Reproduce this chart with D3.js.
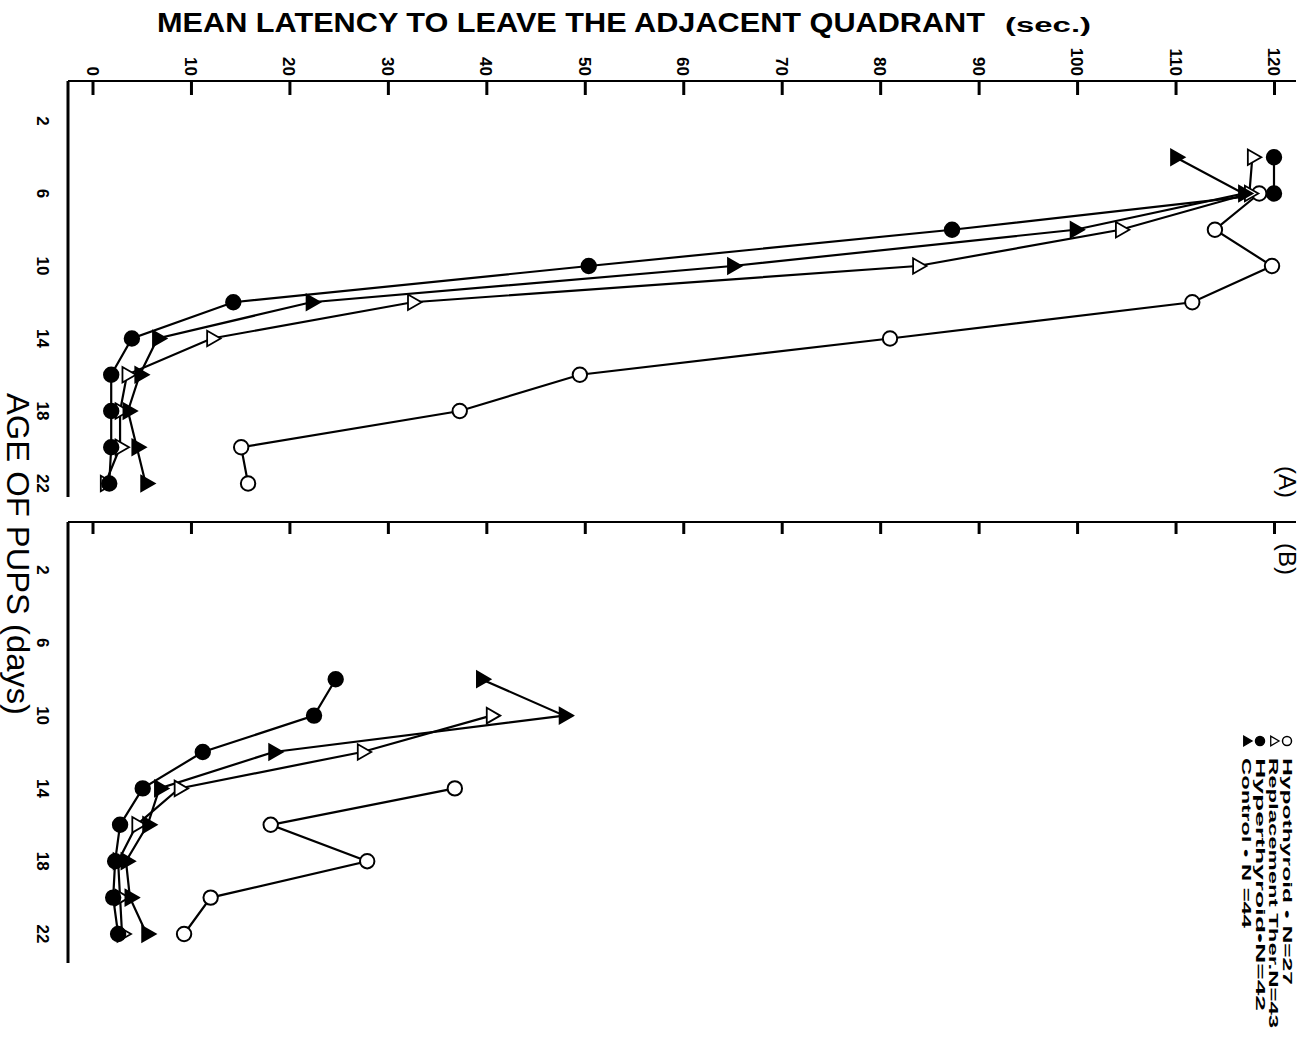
<!DOCTYPE html>
<html>
<head>
<meta charset="utf-8">
<script src="https://cdn.jsdelivr.net/npm/d3@7"></script>
<style>
  html, body { margin: 0; padding: 0; background: #fff; }
  svg { display: block; }
  text { font-family: "Liberation Sans", Arial, sans-serif; fill: #000; }
</style>
</head>
<body>
<svg id="chart" width="1306" height="1037"></svg>
<script>
// ---------- data ----------
const agesA = [4, 6, 8, 10, 12, 14, 16, 18, 20, 22];
const hypoA    = [null, 118.5, 114.0, 119.8, 111.7, 81.0, 49.5, 37.3, 15.1, 15.8];
const replA    = [117.8, 117.5, 104.4, 83.8, 32.5, 12.1, 3.5, 2.8, 2.8, 1.3];
const hyperA   = [120.0, 120.0, 87.3, 50.4, 14.3, 4.0, 1.9, 1.9, 1.9, 1.7];
const controlA = [110.0, 116.9, 99.8, 65.0, 22.2, 6.6, 4.8, 3.6, 4.5, 5.4];

const agesB = [8, 10, 12, 14, 16, 18, 20, 22];
const hypoB    = [null, null, null, 36.8, 18.1, 27.9, 12.0, 9.3];
const replB    = [null, 40.5, 27.4, 8.8, 4.5, 2.6, 2.8, 3.0];
const hyperB   = [24.7, 22.5, 11.2, 5.1, 2.8, 2.3, 2.1, 2.6];
const controlB = [39.5, 47.9, 18.4, 6.8, 5.6, 3.4, 3.8, 5.5];

const latencyTicks = [0, 10, 20, 30, 40, 50, 60, 70, 80, 90, 100, 110, 120];
const ageTicks = [2, 6, 10, 14, 18, 22];

const legendLabels = ["Hypothyroid \u2022 N=27", "Replacement Ther.N=43", "Hyperthyroid\u2022N=42", "Control \u2022 N =44"];
const legendKinds = ["openCircle", "openTri", "filledCircle", "filledTri"];

const titleText = "MEAN LATENCY TO LEAVE THE ADJACENT QUADRANT";
const titleUnit = "(sec.)";
const ageLabel = "AGE OF PUPS (days)";

// ---------- layout ----------
const svg = d3.select("#chart");
const x = d3.scaleLinear().domain([0, 120]).range([92.5, 1274]);
const yA = d3.scaleLinear().domain([2, 22]).range([121, 483.5]);
const yB = d3.scaleLinear().domain([2, 22]).range([570, 934]);

const axisX0 = 68, axisX1 = 1296;

// title
svg.append("text").attr("x", 157).attr("y", 32)
  .attr("font-size", 28).attr("font-weight", "bold")
  .attr("textLength", 828).attr("lengthAdjust", "spacingAndGlyphs")
  .text(titleText);
svg.append("text").attr("x", 1005).attr("y", 32)
  .attr("font-size", 20).attr("font-weight", "bold")
  .attr("textLength", 86).attr("lengthAdjust", "spacingAndGlyphs")
  .text(titleUnit);

// age label
svg.append("text")
  .attr("transform", "translate(7,393) rotate(90)")
  .attr("font-size", 31)
  .attr("textLength", 322).attr("lengthAdjust", "spacingAndGlyphs")
  .text(ageLabel);

function panel(top, bottom, y, tickLen, withLabels) {
  const g = svg.append("g");
  const ax = d3.axisBottom(x).tickValues(latencyTicks).tickSize(tickLen).tickFormat("");
  const ga = g.append("g").attr("transform", `translate(0,${top})`).call(ax);
  ga.select(".domain").remove();
  ga.selectAll(".tick line").attr("stroke", "#000").attr("stroke-width", 3);
  g.append("line").attr("x1", axisX0).attr("x2", axisX1).attr("y1", top).attr("y2", top)
    .attr("stroke", "#000").attr("stroke-width", 2.2);
  g.append("line").attr("x1", axisX0).attr("x2", axisX0).attr("y1", top).attr("y2", bottom)
    .attr("stroke", "#000").attr("stroke-width", 3);
  if (withLabels) {
    latencyTicks.forEach(t => {
      svg.append("text")
        .attr("transform", `translate(${x(t) - 6},${top - 5}) rotate(90)`)
        .attr("text-anchor", "end")
        .attr("font-size", 17).attr("font-weight", "bold")
        .text(t);
    });
  }
  ageTicks.forEach(a => {
    svg.append("text")
      .attr("transform", `translate(37,${y(a)}) rotate(90)`)
      .attr("text-anchor", "middle")
      .attr("font-size", 17).attr("font-weight", "bold")
      .text(a);
  });
}
panel(81, 497, yA, 14, true);
panel(522, 963, yB, 12, false);

// panel labels
svg.append("text").attr("transform", "translate(1279,482) rotate(90)")
  .attr("text-anchor", "middle").attr("font-size", 24).text("(A)");
svg.append("text").attr("transform", "translate(1279,559) rotate(90)")
  .attr("text-anchor", "middle").attr("font-size", 24).text("(B)");

// ---------- series ----------
function drawMarker(g, kind, cx, cy, small) {
  if (kind === "openCircle" || kind === "filledCircle") {
    g.append("circle").attr("cx", cx).attr("cy", cy).attr("r", small ? 4.5 : 7.2)
      .attr("fill", kind === "openCircle" ? "#fff" : "#000")
      .attr("stroke", "#000").attr("stroke-width", small ? 1.5 : 2);
  } else {
    const p = d3.symbol().type(d3.symbolTriangle).size(small ? 40 : 105)();
    g.append("path").attr("d", p)
      .attr("transform", `translate(${cx},${cy}) rotate(90)`)
      .attr("fill", kind === "openTri" ? "#fff" : "#000")
      .attr("stroke", "#000").attr("stroke-width", small ? 1.3 : 1.8);
  }
}

function series(ages, vals, y) {
  const pts = ages.map((a, i) => ({ a, v: vals[i] })).filter(d => d.v != null);
  const line = d3.line().x(d => x(d.v)).y(d => y(d.a));
  svg.append("path").datum(pts).attr("d", line)
    .attr("fill", "none").attr("stroke", "#000").attr("stroke-width", 2.2);
  return pts;
}

const defs = [
  [agesA, hypoA, yA, "openCircle"],
  [agesA, replA, yA, "openTri"],
  [agesA, controlA, yA, "filledTri"],
  [agesA, hyperA, yA, "filledCircle"],
  [agesB, hypoB, yB, "openCircle"],
  [agesB, replB, yB, "openTri"],
  [agesB, controlB, yB, "filledTri"],
  [agesB, hyperB, yB, "filledCircle"]
];
const allPts = defs.map(d => ({ pts: series(d[0], d[1], d[2]), y: d[2], kind: d[3] }));
const mg = svg.append("g");
allPts.forEach(s => s.pts.forEach(p => drawMarker(mg, s.kind, x(p.v), s.y(p.a), false)));

// ---------- legend ----------
const legX = [1287, 1273.5, 1260, 1246.5];
const legLen = [227, 270, 253, 170];
legendLabels.forEach((lab, i) => {
  drawMarker(svg, legendKinds[i], legX[i], 741, true);
  svg.append("text")
    .attr("transform", `translate(${legX[i] - 4.5},758) rotate(90)`)
    .attr("font-size", 12.5).attr("font-weight", "bold")
    .attr("textLength", legLen[i]).attr("lengthAdjust", "spacingAndGlyphs")
    .text(lab);
});
</script>
</body>
</html>
